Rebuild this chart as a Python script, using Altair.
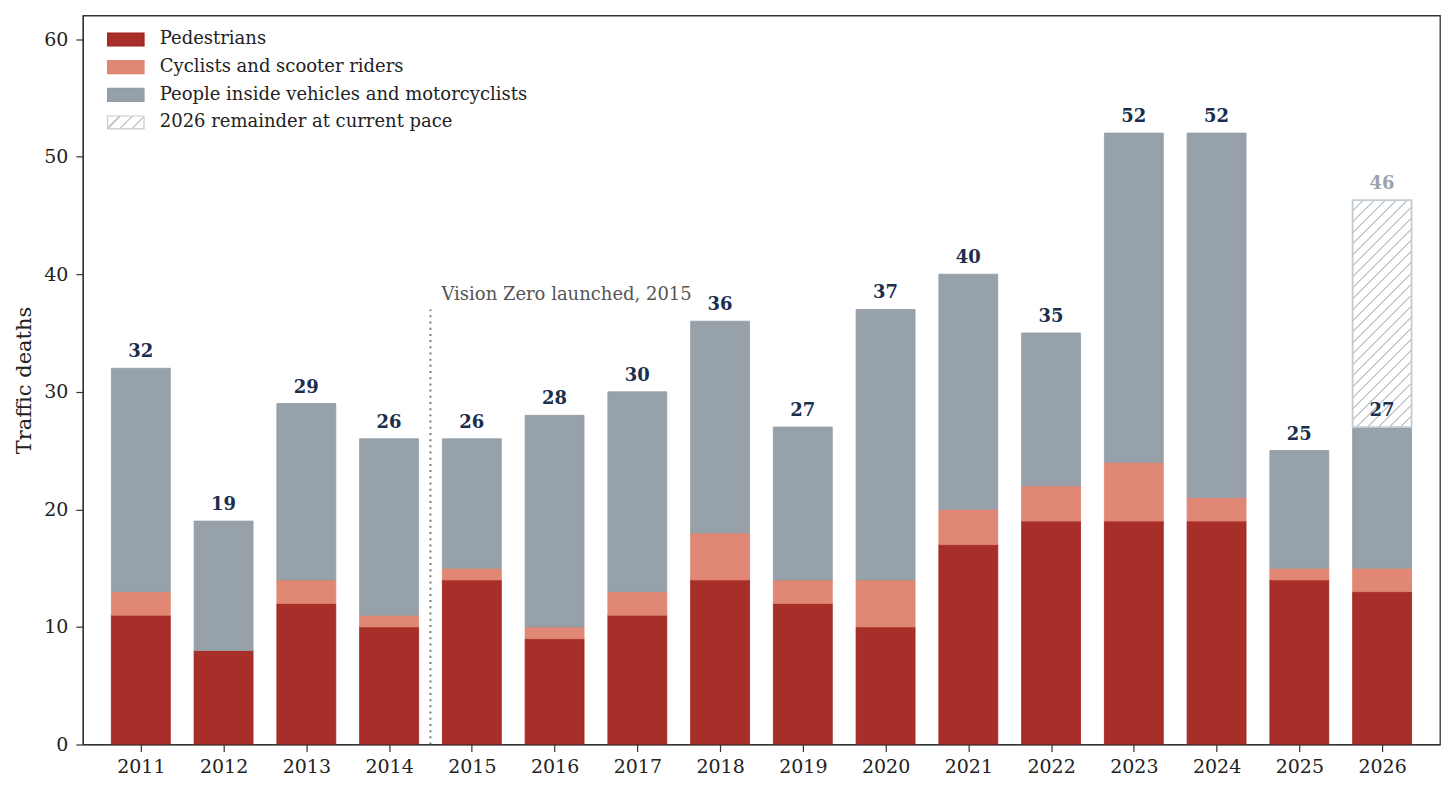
import math
import altair as alt
import pandas as pd

# ---------------- data ----------------
YEARS = list(range(2011, 2027))
PEDESTRIANS = [11, 8, 12, 10, 14, 9, 11, 14, 12, 10, 17, 19, 19, 19, 14, 13]
CYCLISTS = [2, 0, 2, 1, 1, 1, 2, 4, 2, 4, 3, 3, 5, 2, 1, 2]
VEHICLES = [19, 11, 15, 15, 11, 18, 17, 18, 13, 23, 20, 13, 28, 31, 10, 12]
TOTALS = [32, 19, 29, 26, 26, 28, 30, 36, 27, 37, 40, 35, 52, 52, 25, 27]
PROJ_YEAR = 2026
PROJ_TOTAL = 46.3
PROJ_LABEL = "46"
VZ_X = 2014.5
VZ_TOP = 37
VZ_TEXT = "Vision Zero launched, 2015"
CATS = ["Pedestrians", "Cyclists and scooter riders",
        "People inside vehicles and motorcyclists"]
PROJ_CAT = "2026 remainder at current pace"

# ---------------- style ----------------
FONT = "DejaVu Serif"
C_PED, C_CYC, C_VEH = "#a82f29", "#e08875", "#97a1aa"
E_PED, E_CYC, E_VEH = "#a01f1c", "#dc846f", "#929ca5"
HATCH = "#c3cbd2"
LABEL_C = "#1b2f4d"
PLOT_W, PLOT_H = 1359, 730
X_DOM = [2010.3, 2026.7]
Y_DOM = [0, 62]
HALF = 0.356

rows = []
for i, yr in enumerate(YEARS):
    b = 0
    for cat, v in zip(CATS, [PEDESTRIANS[i], CYCLISTS[i], VEHICLES[i]]):
        rows.append({"year": yr, "cat": cat, "bottom": b, "top": b + v})
        b += v
stack_df = pd.DataFrame(rows)
tot_df = pd.DataFrame({"year": YEARS, "total": TOTALS, "label": [str(t) for t in TOTALS]})
proj_df = pd.DataFrame({"year": [PROJ_YEAR], "bottom": [TOTALS[-1]], "top": [PROJ_TOTAL],
                        "label": [PROJ_LABEL], "lab": [PROJ_CAT]})
vz_df = pd.DataFrame({"x": [VZ_X], "y0": [0], "y1": [VZ_TOP], "text": [VZ_TEXT]})


def stripe_stops(n, frac, fg, bg):
    stops = []
    h = frac / (2 * n)
    for k in range(n + 1):
        c = k / n
        lo, hi = c - h, c + h
        if lo > 0:
            stops += [(lo, bg), (lo, fg)]
        else:
            stops += [(0, fg)]
        if hi < 1:
            stops += [(hi, fg), (hi, bg)]
        else:
            stops += [(1, fg)]
    return stops


def hatch_expr(w, h, period, line, n=None):
    # linear gradient (bounding-box units) giving 45-degree "///" stripes
    r = w / h
    b = (1 + r) / (1 + r * r)
    a = r * b
    d = (w + h) / math.sqrt(2)
    if n is None:
        n = max(1, round(d / period))
    stops = stripe_stops(n, line * n / d, HATCH, "#ffffff")
    s = ", ".join("{offset: %.4f, color: '%s'}" % (o, c) for o, c in stops)
    return "{gradient: 'linear', x1: 0, y1: 0, x2: %.4f, y2: %.4f, stops: [%s]}" % (a, b, s)


PERIOD = 7.8
LINE = 1.6
bw = 2 * HALF * PLOT_W / (X_DOM[1] - X_DOM[0])
bh = (PROJ_TOTAL - TOTALS[-1]) * PLOT_H / (Y_DOM[1] - Y_DOM[0])
SYM = 13
SYM_PATH = "M-2.8,-1H2.8V1H-2.8Z"
BAR_G = hatch_expr(bw, bh, PERIOD, LINE)
LEG_G = hatch_expr(2.8 * SYM, SYM, PERIOD, LINE, n=4)
# bars have a data row (x0); legend swatches do not
FILL_EXPR = "isValid(datum.x0) ? %s : %s" % (BAR_G, LEG_G)

xscale = alt.Scale(domain=X_DOM, nice=False, zero=False)
yscale = alt.Scale(domain=Y_DOM, nice=False)
xaxis = alt.Axis(values=YEARS, format="d", labelFlush=False, grid=False, tickSize=7,
                 labelPadding=6, labelFontSize=19, labelColor="#222", tickColor="#333",
                 domainColor="#333", tickWidth=1.2, domainWidth=1.2, zindex=1)
yaxis = alt.Axis(values=list(range(0, 61, 10)), grid=False, tickSize=7, labelPadding=8,
                 labelFontSize=19, labelColor="#222", tickColor="#333", domainColor="#333",
                 tickWidth=1.2, domainWidth=1.2, titleFontSize=21, titleFontWeight="normal",
                 titleColor="#222", titlePadding=9, zindex=1)
YT = "Traffic deaths"

LEG_X, LEG_Y, ROW = 34, 15, 27.7
leg_common = dict(title=None, orient="none", padding=0, symbolType=SYM_PATH,
                  symbolSize=SYM * SYM, labelFont=FONT, labelFontSize=18, labelColor="#222",
                  labelOffset=25, rowPadding=ROW - 18, symbolStrokeWidth=1.2, labelLimit=600)

base_calc = dict(x0=f"datum.year - {HALF}", x1=f"datum.year + {HALF}")

bars = alt.Chart(stack_df).transform_calculate(**base_calc).mark_bar(strokeWidth=0.8).encode(
    x=alt.X("x0:Q", scale=xscale, axis=xaxis, title=None),
    x2="x1:Q",
    y=alt.Y("bottom:Q", scale=yscale, axis=yaxis, title=YT),
    y2="top:Q",
    color=alt.Color("cat:N", scale=alt.Scale(domain=CATS, range=[C_PED, C_CYC, C_VEH]),
                    legend=alt.Legend(legendX=LEG_X, legendY=LEG_Y, **leg_common)),
    stroke=alt.Stroke("cat:N", scale=alt.Scale(domain=CATS, range=[E_PED, E_CYC, E_VEH]), legend=None),
)

hatch = alt.Chart(proj_df).transform_calculate(**base_calc).mark_bar(
    fill=alt.ExprRef(expr=FILL_EXPR), stroke=HATCH, strokeWidth=1.8).encode(
    x=alt.X("x0:Q", scale=xscale, title=None), x2="x1:Q",
    y=alt.Y("bottom:Q", scale=yscale, title=YT), y2="top:Q",
    opacity=alt.Opacity("lab:N", scale=alt.Scale(domain=[PROJ_CAT], range=[1]),
                        legend=alt.Legend(legendX=LEG_X, legendY=LEG_Y + 3 * ROW, **leg_common)),
)

rule = alt.Chart(vz_df).mark_rule(color="#7a7a7a", strokeDash=[2, 4.2], strokeWidth=2).encode(
    x=alt.X("x:Q", scale=xscale, title=None),
    y=alt.Y("y0:Q", scale=yscale, title=YT), y2="y1:Q",
)
vz_text = alt.Chart(vz_df).mark_text(align="left", baseline="alphabetic", dx=11, dy=-9,
                                     font=FONT, fontSize=18, color="#555").encode(
    x=alt.X("x:Q", scale=xscale, title=None),
    y=alt.Y("y1:Q", scale=yscale, title=YT), text="text:N",
)

tot_text = alt.Chart(tot_df).mark_text(baseline="alphabetic", dy=-11, font=FONT, fontSize=18,
                                       fontWeight="bold", color=LABEL_C).encode(
    x=alt.X("year:Q", scale=xscale, title=None),
    y=alt.Y("total:Q", scale=yscale, title=YT), text="label:N",
)
proj_text = alt.Chart(proj_df).mark_text(baseline="alphabetic", dy=-11, font=FONT, fontSize=18,
                                         fontWeight="bold", color="#9aa4ad").encode(
    x=alt.X("year:Q", scale=xscale, title=None),
    y=alt.Y("top:Q", scale=yscale, title=YT), text="label:N",
)

chart = alt.layer(bars, hatch, rule, vz_text, tot_text, proj_text).properties(
    width=PLOT_W, height=PLOT_H, autosize=alt.AutoSizeParams(type="none"),
    padding={"left": 75, "top": 7, "right": 8, "bottom": 40},
).configure(font=FONT, background="white").configure_view(stroke="#333", strokeWidth=1.3)

chart.save("out.html", embed_options={"renderer": "svg", "actions": False})
